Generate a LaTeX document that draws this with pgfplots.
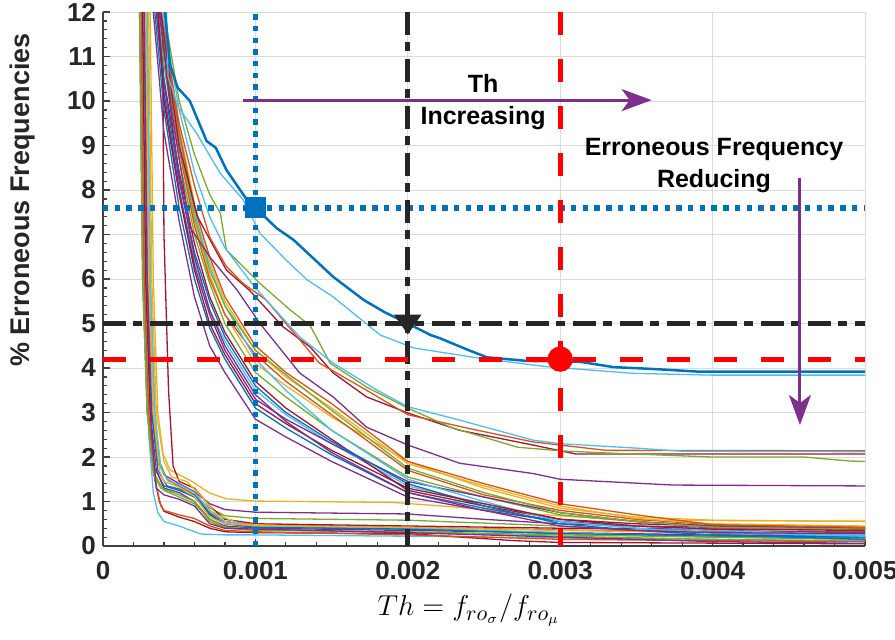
\documentclass[border=0pt]{standalone}
\usepackage{fontspec}
\setmainfont{Liberation Sans}
\usepackage{pgfplots}
\pgfplotsset{compat=1.18}
\usetikzlibrary{arrows.meta}

% MATLAB default line colours
\definecolor{mA}{rgb}{0,0.447,0.741}
\definecolor{mB}{rgb}{0.850,0.325,0.098}
\definecolor{mC}{rgb}{0.929,0.694,0.125}
\definecolor{mD}{rgb}{0.494,0.184,0.556}
\definecolor{mE}{rgb}{0.466,0.674,0.188}
\definecolor{mF}{rgb}{0.301,0.745,0.933}
\definecolor{mG}{rgb}{0.635,0.078,0.184}

\begin{document}
\begin{tikzpicture}
\begin{axis}[
    name=ax, scale only axis, width=381pt, height=267pt,
    xmin=0, xmax=0.005, ymin=0, ymax=12,
    axis x line*=bottom, axis y line*=left,
    axis line style={black!75, line width=0.7pt},
    xtick={0,0.001,0.002,0.003,0.004,0.005},
    xticklabels={0,0.001,0.002,0.003,0.004,0.005},
    scaled x ticks=false,
    ytick={0,1,2,3,4,5,6,7,8,9,10,11,12},
    minor x tick num=4, minor y tick num=4,
    tick align=inside,
    major tick length=3.5pt, minor tick length=2pt,
    every tick/.style={black!75, line width=0.6pt},
    grid=major, major grid style={black!14, line width=0.5pt},
    /pgf/number format/assume math mode=true,
    ticklabel style={font=\fontsize{13}{13}\selectfont\bfseries, text=black!85},
    xticklabel style={yshift=-4pt},
    ylabel={\% Erroneous Frequencies},
    ylabel style={font=\fontsize{13.5}{14}\selectfont\bfseries, text=black!85,
        at={(axis description cs:-0.106,0.648)}, anchor=center},
    xlabel={$Th = f_{ro_\sigma}/f_{ro_\mu}$},
    xlabel style={font=\fontsize{15}{18}\selectfont,
        at={(axis description cs:0.48,-0.12)}, anchor=center},
    every axis plot/.append style={line width=0.65pt},
]
% lower cluster
\addplot[mC] coordinates {(0.00029,16)(0.0003,12)(0.00032,6)(0.00035,3)(0.00039,2.1)(0.00044,1.71)(0.00057,1.48)(0.0007,1.19)(0.00081,1.06)(0.001,1.01)(0.0019,0.98)(0.0023,0.88)(0.0027,0.75)(0.003,0.68)(0.0034,0.58)(0.005,0.56)};
\addplot[mD] coordinates {(0.00027,16)(0.00028,12)(0.0003,6)(0.00033,3)(0.00036,2.0)(0.0004,1.6)(0.0005,1.4)(0.0006,1.22)(0.0007,0.95)(0.0008,0.82)(0.001,0.76)(0.002,0.72)(0.0025,0.6)(0.003,0.5)(0.0035,0.45)(0.004,0.42)(0.005,0.4)};
\addplot[mE] coordinates {(0.00028,16)(0.00029,12)(0.00031,6)(0.00034,3)(0.00037,1.9)(0.00042,1.5)(0.0005,1.32)(0.0006,1.15)(0.0007,0.85)(0.0008,0.68)(0.001,0.62)(0.002,0.58)(0.003,0.45)(0.0035,0.35)(0.004,0.3)(0.005,0.25)};
\addplot[mA] coordinates {(0.00023,16)(0.00024,12)(0.00026,6)(0.00029,3)(0.00033,1.8)(0.0004,1.35)(0.0005,1.25)(0.0006,1.1)(0.0007,0.7)(0.0008,0.5)(0.001,0.45)(0.0015,0.42)(0.002,0.38)(0.003,0.28)(0.004,0.25)(0.005,0.22)};
\addplot[mB] coordinates {(0.00026,16)(0.00027,12)(0.00029,6)(0.00032,3)(0.00036,1.9)(0.00042,1.5)(0.0005,1.35)(0.0006,1.15)(0.0007,0.75)(0.0008,0.55)(0.001,0.48)(0.002,0.42)(0.0027,0.38)(0.003,0.36)(0.004,0.33)(0.005,0.32)};
\addplot[mG] coordinates {(0.00038,16)(0.00039,12)(0.0004,7)(0.00043,3.5)(0.00046,1.8)(0.0005,1.45)(0.0006,1.3)(0.0007,0.9)(0.0008,0.6)(0.001,0.5)(0.002,0.45)(0.003,0.4)(0.004,0.38)(0.005,0.38)};
\addplot[mF] coordinates {(0.00024,16)(0.00025,12)(0.00027,6)(0.0003,2.5)(0.00033,1.2)(0.00036,0.75)(0.0004,0.55)(0.0005,0.45)(0.00057,0.36)(0.00064,0.27)(0.0008,0.25)(0.001,0.25)(0.002,0.22)(0.003,0.18)(0.004,0.15)(0.005,0.12)};
\addplot[mC] coordinates {(0.0003,16)(0.00031,12)(0.00033,6)(0.00036,3)(0.0004,1.9)(0.00045,1.55)(0.00055,1.45)(0.00065,1.1)(0.00075,0.7)(0.0009,0.5)(0.0012,0.45)(0.002,0.4)(0.003,0.3)(0.004,0.2)(0.005,0.15)};
\addplot[mD] coordinates {(0.00025,16)(0.00026,12)(0.00028,6)(0.00031,3)(0.00035,1.7)(0.0004,1.3)(0.0005,1.2)(0.0006,1.0)(0.0007,0.6)(0.0008,0.45)(0.001,0.4)(0.002,0.35)(0.003,0.3)(0.004,0.25)(0.005,0.2)};
\addplot[mE] coordinates {(0.00024,16)(0.00025,12)(0.00027,6)(0.0003,3)(0.00034,1.6)(0.0004,1.25)(0.0005,1.1)(0.0006,0.95)(0.0007,0.6)(0.0008,0.42)(0.001,0.38)(0.002,0.3)(0.003,0.22)(0.004,0.15)(0.005,0.1)};
\addplot[mF] coordinates {(0.00028,16)(0.00029,12)(0.00031,6)(0.00034,3)(0.00038,1.75)(0.00043,1.45)(0.0005,1.38)(0.0006,1.2)(0.0007,0.8)(0.0008,0.55)(0.001,0.45)(0.002,0.4)(0.003,0.3)(0.004,0.2)(0.005,0.18)};
\addplot[mG] coordinates {(0.00025,16)(0.00026,12)(0.00028,6)(0.00031,3)(0.00034,1.5)(0.00037,1.0)(0.0004,0.78)(0.0005,0.65)(0.0006,0.55)(0.0007,0.4)(0.0008,0.32)(0.001,0.3)(0.002,0.28)(0.0027,0.12)(0.003,0.08)(0.005,0.05)};
\addplot[mA] coordinates {(0.00026,16)(0.00027,12)(0.00029,6)(0.00032,3)(0.00036,1.7)(0.00042,1.35)(0.0005,1.28)(0.0006,1.15)(0.0007,0.72)(0.0008,0.5)(0.001,0.42)(0.002,0.38)(0.003,0.28)(0.004,0.22)(0.005,0.2)};
\addplot[mB] coordinates {(0.00024,16)(0.00025,12)(0.00027,6)(0.0003,3)(0.00034,1.5)(0.00038,0.9)(0.0004,0.8)(0.0005,0.7)(0.0006,0.62)(0.0007,0.45)(0.0008,0.35)(0.001,0.32)(0.002,0.25)(0.003,0.15)(0.004,0.12)(0.005,0.1)};
\addplot[mC] coordinates {(0.00027,16)(0.00028,12)(0.0003,6)(0.00033,3)(0.00037,1.7)(0.0004,1.45)(0.0005,1.32)(0.0006,1.12)(0.0007,0.65)(0.0008,0.5)(0.001,0.46)(0.002,0.42)(0.003,0.35)(0.004,0.3)(0.005,0.28)};
\addplot[mE] coordinates {(0.00023,16)(0.00024,12)(0.00026,6)(0.00029,3)(0.00033,1.6)(0.00038,1.3)(0.0005,1.15)(0.0006,1.0)(0.0007,0.55)(0.0008,0.4)(0.001,0.35)(0.002,0.32)(0.003,0.25)(0.004,0.2)(0.005,0.15)};
\addplot[mD] coordinates {(0.00026,16)(0.00027,12)(0.00029,6)(0.00032,2.5)(0.00035,1.3)(0.0004,1.15)(0.0005,1.05)(0.0006,0.9)(0.0007,0.5)(0.0008,0.4)(0.001,0.38)(0.002,0.3)(0.003,0.2)(0.004,0.1)(0.005,0.06)};
% middle cluster
\addplot[mD] coordinates {(0.00031,16)(0.00033,12)(0.0004,9.3)(0.0005,7.3)(0.0006,5.6)(0.0007,4.5)(0.0008,3.9)(0.001,2.85)(0.0012,2.45)(0.0015,1.9)(0.002,1.1)(0.0025,0.8)(0.003,0.55)(0.0035,0.45)(0.004,0.35)(0.005,0.3)};
\addplot[mA] coordinates {(0.00032,16)(0.00034,12)(0.0004,9.8)(0.0005,7.6)(0.0006,6.0)(0.0007,4.9)(0.0008,4.2)(0.001,3.1)(0.0012,2.65)(0.0015,2.05)(0.002,1.2)(0.0025,0.85)(0.003,0.55)(0.0035,0.4)(0.004,0.3)(0.005,0.2)};
\addplot[mF] coordinates {(0.00033,16)(0.00035,12)(0.0004,10.1)(0.0005,8.0)(0.0006,6.4)(0.0007,5.3)(0.0008,4.6)(0.001,3.5)(0.0012,2.95)(0.0015,2.3)(0.002,1.35)(0.0025,0.95)(0.003,0.6)(0.0035,0.45)(0.004,0.35)(0.005,0.25)};
\addplot[mG] coordinates {(0.00034,16)(0.00036,12)(0.0004,10.5)(0.0005,8.4)(0.0006,6.8)(0.0007,5.6)(0.0008,4.8)(0.001,3.7)(0.0012,3.1)(0.0015,2.4)(0.002,1.25)(0.0025,0.9)(0.003,0.6)(0.0035,0.5)(0.004,0.45)(0.005,0.42)};
\addplot[mC] coordinates {(0.00035,16)(0.00037,12)(0.00045,10.2)(0.0005,9.0)(0.0006,7.3)(0.0007,6.1)(0.0008,5.2)(0.001,4.1)(0.0012,3.6)(0.0015,2.9)(0.002,1.9)(0.0025,1.3)(0.003,0.85)(0.0035,0.65)(0.004,0.58)(0.005,0.55)};
\addplot[mE] coordinates {(0.00034,16)(0.00036,12)(0.0004,10.8)(0.0005,8.7)(0.0006,7.0)(0.0007,5.9)(0.0008,5.0)(0.001,3.9)(0.0012,3.35)(0.0015,2.6)(0.002,1.55)(0.0025,1.1)(0.003,0.7)(0.0035,0.55)(0.004,0.45)(0.005,0.35)};
\addplot[mB] coordinates {(0.00035,16)(0.00037,12)(0.00045,10.0)(0.0005,8.9)(0.0006,7.2)(0.0007,6.0)(0.0008,5.2)(0.001,4.3)(0.0012,3.7)(0.0015,2.95)(0.002,1.7)(0.0025,1.15)(0.003,0.8)(0.0035,0.6)(0.004,0.48)(0.005,0.4)};
\addplot[mD] coordinates {(0.00033,16)(0.00035,12)(0.0004,10.2)(0.0005,8.0)(0.0006,6.3)(0.0007,5.2)(0.0008,4.4)(0.001,3.3)(0.0012,2.85)(0.0015,2.3)(0.002,1.45)(0.0025,1.1)(0.003,0.75)(0.0035,0.55)(0.004,0.45)(0.005,0.4)};
\addplot[mF] coordinates {(0.00036,16)(0.00038,12)(0.00045,10.3)(0.0005,9.2)(0.0006,7.5)(0.0007,6.3)(0.0008,5.4)(0.001,4.2)(0.0012,3.5)(0.0015,2.6)(0.002,1.5)(0.0025,1.0)(0.003,0.55)(0.0035,0.4)(0.004,0.3)(0.005,0.22)};
\addplot[mA] coordinates {(0.00034,16)(0.00036,12)(0.0004,10.4)(0.0005,8.2)(0.0006,6.6)(0.0007,5.5)(0.0008,4.7)(0.001,3.6)(0.0012,3.0)(0.0015,2.35)(0.002,1.4)(0.0025,0.9)(0.003,0.5)(0.0035,0.35)(0.004,0.25)(0.005,0.15)};
\addplot[mC] coordinates {(0.00036,16)(0.00038,12)(0.00045,10.6)(0.0005,9.4)(0.0006,7.7)(0.0007,6.4)(0.0008,5.5)(0.001,4.4)(0.0012,3.8)(0.0015,3.1)(0.002,1.85)(0.0025,1.35)(0.003,0.9)(0.0035,0.62)(0.004,0.5)(0.005,0.45)};
\addplot[mE] coordinates {(0.00035,16)(0.00037,12)(0.00045,10.1)(0.0005,9.0)(0.0006,7.4)(0.0007,6.2)(0.0008,5.4)(0.001,4.4)(0.0012,3.85)(0.0015,3.05)(0.002,1.75)(0.0025,1.2)(0.003,0.75)(0.0035,0.55)(0.004,0.42)(0.005,0.38)};
\addplot[mG] coordinates {(0.00034,16)(0.00036,12)(0.0004,10.0)(0.0005,7.9)(0.0006,6.2)(0.0007,5.0)(0.0008,4.3)(0.001,3.2)(0.0012,2.75)(0.0015,2.15)(0.002,1.3)(0.0025,0.95)(0.003,0.6)(0.0035,0.45)(0.004,0.38)(0.005,0.35)};
\addplot[mB] coordinates {(0.00036,16)(0.00038,12)(0.00045,10.4)(0.0005,9.3)(0.0006,7.6)(0.0007,6.5)(0.0008,5.6)(0.001,4.5)(0.0012,3.9)(0.0015,3.2)(0.002,1.9)(0.0025,1.4)(0.003,0.95)(0.0035,0.7)(0.004,0.48)(0.005,0.42)};
\addplot[mD] coordinates {(0.00035,16)(0.00037,12)(0.00045,9.6)(0.0005,8.3)(0.0006,6.5)(0.0007,5.3)(0.0008,4.5)(0.001,3.4)(0.0012,2.8)(0.0015,2.1)(0.002,1.2)(0.0025,0.8)(0.003,0.45)(0.0035,0.35)(0.004,0.3)(0.005,0.28)};
% curves that settle near 2 and 1.35
\addplot[mD] coordinates {(0.00035,16)(0.00037,12)(0.00045,9.8)(0.00057,7.17)(0.0007,6.5)(0.00088,5.75)(0.00103,5.0)(0.00129,3.89)(0.00151,3.35)(0.00173,2.67)(0.002,2.27)(0.00234,1.86)(0.00282,1.63)(0.003,1.5)(0.00374,1.37)(0.005,1.35)};
\addplot[mG] coordinates {(0.00036,16)(0.00038,12)(0.00045,10.2)(0.0005,9.0)(0.00062,7.4)(0.00081,6.2)(0.00096,5.75)(0.00118,4.93)(0.00136,4.47)(0.00151,3.89)(0.00173,3.35)(0.002,2.99)(0.00234,2.6)(0.00282,2.27)(0.0031,2.07)(0.005,2.07)};
\addplot[mB] coordinates {(0.00037,16)(0.00039,12)(0.00045,10.5)(0.0005,9.5)(0.0006,8.1)(0.0007,6.94)(0.00081,6.28)(0.00092,5.9)(0.00107,5.53)(0.00125,4.8)(0.00142,4.11)(0.00173,3.5)(0.002,2.95)(0.00239,2.65)(0.00282,2.34)(0.0033,2.15)(0.005,2.14)};
\addplot[mE] coordinates {(0.00038,16)(0.0004,12)(0.00045,11.0)(0.0005,10.0)(0.0006,8.8)(0.0007,7.9)(0.00077,7.48)(0.00081,6.65)(0.00103,5.9)(0.00123,5.3)(0.00136,4.95)(0.00149,4.11)(0.00173,3.57)(0.002,3.1)(0.00228,2.67)(0.00272,2.22)(0.003,2.14)(0.00324,2.1)(0.004,2.0)(0.0046,2.0)(0.0049,1.91)(0.005,1.9)};
\addplot[mF] coordinates {(0.00037,16)(0.00039,12)(0.00045,10.8)(0.0005,9.8)(0.0006,8.4)(0.0007,7.4)(0.0008,6.7)(0.001,5.8)(0.00129,4.7)(0.00151,4.11)(0.0018,3.5)(0.002,3.13)(0.00234,2.83)(0.00282,2.38)(0.003,2.3)(0.0035,2.2)(0.0038,2.13)(0.005,2.12)};
% top pair
\addplot[mF] coordinates {(0.0004,16)(0.00042,11.5)(0.000427,10.55)(0.000493,9.87)(0.000615,9.27)(0.000768,8.38)(0.00092,7.78)(0.00103,7.03)(0.0012,6.43)(0.00134,5.98)(0.00151,5.6)(0.00182,4.74)(0.00204,4.45)(0.00247,4.22)(0.00291,4.03)(0.00348,3.88)(0.004,3.84)(0.005,3.84)};
\addplot[mA, line width=1.25pt] coordinates {(0.00038,16)(0.000407,12)(0.00044,10.8)(0.00049,10.3)(0.00057,10.0)(0.00068,9.1)(0.00074,8.95)(0.00081,8.45)(0.00094,7.8)(0.001,7.6)(0.00114,7.14)(0.00125,6.88)(0.00151,6.05)(0.00171,5.53)(0.00185,5.25)(0.002,5.0)(0.00215,4.74)(0.00221,4.67)(0.0024,4.4)(0.00252,4.24)(0.00278,4.16)(0.00313,4.14)(0.00335,4.02)(0.0036,3.98)(0.0039,3.92)(0.005,3.92)};
% reference lines
\addplot[mA, line width=2.7pt, dash pattern=on 2.7pt off 3.15pt] coordinates {(0.001,0)(0.001,12)};
\addplot[mA, line width=2.7pt, dash pattern=on 2.7pt off 3.15pt] coordinates {(0,7.6)(0.005,7.6)};
\addplot[black!85, line width=2.6pt, dash pattern=on 11.5pt off 3.5pt on 4.5pt off 4pt] coordinates {(0.002,12)(0.002,0)};
\addplot[black!85, line width=2.6pt, dash pattern=on 11.5pt off 3.5pt on 4.5pt off 4pt] coordinates {(0,5)(0.005,5)};
\addplot[red, line width=2.6pt, dash pattern=on 11.5pt off 12pt] coordinates {(0.003,12)(0.003,0)};
\addplot[red, line width=2.6pt, dash pattern=on 11.5pt off 12pt] coordinates {(0,4.2)(0.005,4.2)};
% markers
\addplot[only marks, mark=square*, mark size=5pt, mA] coordinates {(0.001,7.6)};
\addplot[only marks, mark=triangle*, mark size=6pt, black!85, mark options={rotate=180, xscale=1.2}] coordinates {(0.002,5.05)};
\addplot[only marks, mark=*, mark size=6pt, red] coordinates {(0.003,4.2)};
% arrows
\addplot[mD, line width=1.5pt, -{Stealth[length=15pt, width=11pt, inset=4pt]}] coordinates {(0.00092,10.02)(0.0036,10.02)};
\addplot[mD, line width=1.5pt, -{Stealth[length=15pt, width=11pt, inset=4pt]}] coordinates {(0.004573,8.27)(0.004573,2.72)};
\node[font=\fontsize{12.5}{16}\selectfont\bfseries, align=center] at (axis cs:0.002494,9.98) {Th\\Increasing};
\node[font=\fontsize{12.5}{16}\selectfont\bfseries, align=center] at (axis cs:0.004009,8.56) {Erroneous Frequency\\Reducing};
\end{axis}
\pgfresetboundingbox
\path[use as bounding box] ([shift={(-51.5pt,-46.5pt)}]ax.south west) rectangle ([shift={(15pt,6pt)}]ax.north east);
\end{tikzpicture}
\end{document}
